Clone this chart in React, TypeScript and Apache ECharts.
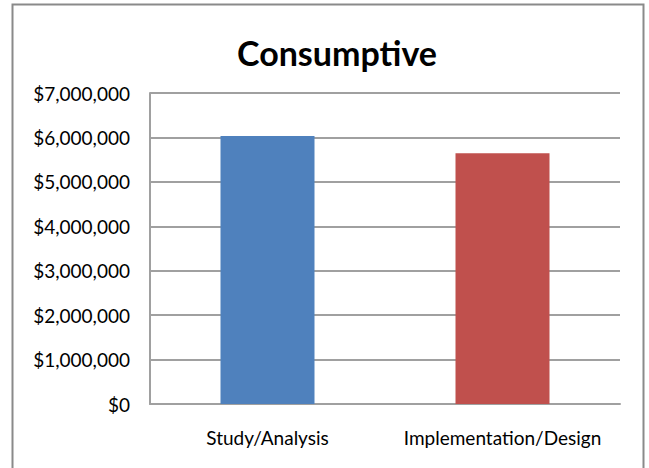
import React, { useEffect, useRef } from "react";
import * as echarts from "echarts";

const categories = ["Study/Analysis", "Implementation/Design"];
const values = [6030000, 5645000];
const barColors = ["#4F81BD", "#C0504D"];
const chartTitle = "Consumptive";

const formatDollars = (v: number) =>
  "$" + Math.round(v).toString().replace(/\B(?=(\d{3})+(?!\d))/g, ",");

export default function App() {
  const ref = useRef<HTMLDivElement>(null);

  useEffect(() => {
    if (!ref.current) return;
    const chart = echarts.init(ref.current, undefined, { renderer: "svg" });
    const font = "Lato, 'Open Sans', sans-serif";
    chart.setOption({
      animation: false,
      backgroundColor: "#ffffff",
      title: {
        text: chartTitle,
        left: 332,
        top: 30,
        textAlign: "center",
        textStyle: {
          fontFamily: font,
          fontWeight: "bold",
          fontSize: 34,
          color: "#000000",
        },
      },
      graphic: [
        {
          type: "rect",
          shape: { x: 12.5, y: 4.5, width: 631, height: 500 },
          style: { fill: "none", stroke: "#8a8a8a", lineWidth: 2 },
          silent: true,
        },
      ],
      grid: { left: 150, right: 29, top: 93, bottom: 64 },
      xAxis: {
        type: "category",
        data: categories,
        axisLine: { show: true, lineStyle: { color: "#a0a0a0", width: 2 } },
        axisTick: { show: false },
        axisLabel: {
          interval: 0,
          margin: 24,
          fontFamily: font,
          fontSize: 19,
          color: "#000000",
        },
      },
      yAxis: {
        type: "value",
        min: 0,
        max: 7000000,
        interval: 1000000,
        axisLine: { show: true, lineStyle: { color: "#a0a0a0", width: 2 } },
        axisTick: { show: false },
        splitLine: { show: true, lineStyle: { color: "#a0a0a0", width: 2 } },
        axisLabel: {
          margin: 20,
          fontFamily: font,
          fontSize: 19,
          color: "#000000",
          formatter: (v: number) => formatDollars(v),
        },
      },
      series: [
        {
          type: "bar",
          barWidth: 94,
          data: values.map((v, i) => ({
            value: v,
            itemStyle: { color: barColors[i] },
          })),
        },
      ],
    });
    return () => chart.dispose();
  }, []);

  return (
    <div
      ref={ref}
      style={{ position: "absolute", left: 0, top: 0, width: 649, height: 468 }}
    />
  );
}
